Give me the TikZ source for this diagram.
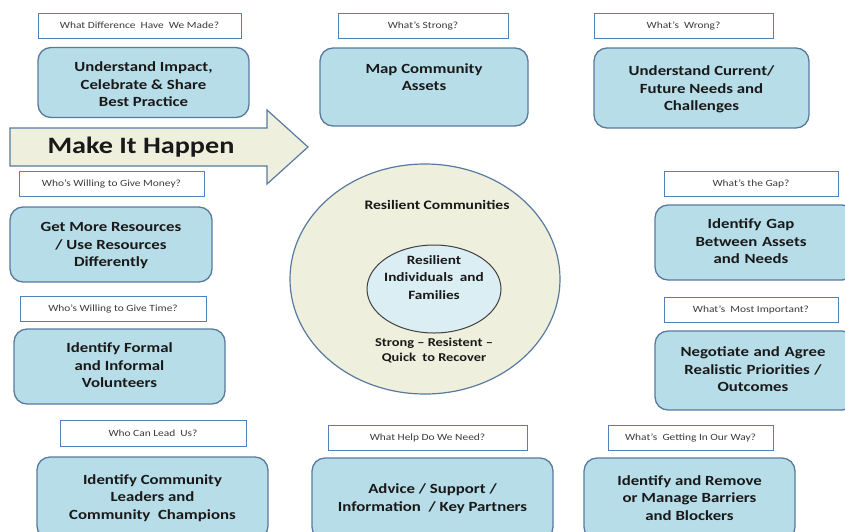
\documentclass[tikz,border=0pt]{standalone}
\usepackage{fontspec}
\setmainfont[FakeStretch=1.2]{Carlito}
\definecolor{boxfill}{RGB}{183,221,232}
\definecolor{boxline}{RGB}{88,122,158}
\definecolor{beige}{RGB}{238,240,221}
\definecolor{innerfill}{RGB}{219,238,244}
\definecolor{labline}{RGB}{79,129,189}
\definecolor{txt}{RGB}{25,25,25}
\begin{document}
\begin{tikzpicture}[x=1pt,y=-1pt,
  bbox/.style={draw=boxline, line width=1.3pt, fill=boxfill, rounded corners=13pt,
    align=center, text=txt, font=\fontsize{14}{17.5}\selectfont\bfseries, inner sep=0pt},
  lbox/.style={draw=labline, line width=0.9pt, fill=white, minimum height=25pt,
    text=txt!85, font=\fontsize{9.5}{10}\selectfont, inner sep=0pt},
  ctext/.style={align=center, text=txt, font=\fontsize{13}{17.5}\selectfont\bfseries, inner sep=0pt}]
\useasboundingbox (0,0) rectangle (845,531);
\fill[white] (0,0) rectangle (845,531);

% label boxes
\node[lbox, minimum width=203pt] (L1) at (139.5,25.5) {What Difference\ \ Have\ \ We Made?};
\node[lbox, minimum width=170pt] (L2) at (423,25.5) {What's Strong?};
\node[lbox, minimum width=179pt] (L3) at (683.5,25.5) {What's\ \ Wrong?};
\node[lbox, minimum width=185pt] (L4) at (111.5,183.5) {Who's Willing to Give Money?};
\node[lbox, minimum width=174pt] (L5) at (751,184) {What's the Gap?};
\node[lbox, minimum width=186pt] (L6) at (113,308.5) {Who's Willing to Give Time?};
\node[lbox, minimum width=174pt] (L7) at (751,309.5) {What's\ \ Most Important?};
\node[lbox, minimum width=186pt, minimum height=26pt] (L8) at (153,433) {Who Can Lead\ \ Us?};
\node[lbox, minimum width=199pt] (L9) at (427.5,437.5) {What Help Do We Need?};
\node[lbox, minimum width=165pt] (L10) at (690.5,437.5) {What's\ \ Getting In Our Way?};

% blue boxes
\node[bbox, minimum width=211pt, minimum height=70pt] (A) at (143.5,82.5) {\rule{0pt}{18.5pt}Understand Impact,\\\strut Celebrate \& Share\\\strut Best Practice};
\node[bbox, minimum width=208pt, minimum height=78pt] (B) at (424,87) {\strut Map Community\\\strut Assets\\\strut};
\node[bbox, minimum width=215pt, minimum height=80pt] (C) at (701.5,88) {\rule{0pt}{16pt}Understand Current/\\\strut Future Needs and\\\strut Challenges};
\node[bbox, minimum width=202pt, minimum height=75pt] (D) at (111,244.5) {\rule{0pt}{15pt}Get More Resources\\\strut / Use Resources\\\strut Differently};
\node[bbox, minimum width=200pt, minimum height=75pt, text width=190pt] (E) at (755,242.5) {\hspace*{-8pt}\strut Identify Gap\\\hspace*{-8pt}\strut Between Assets\\\hspace*{-8pt}\strut and Needs};
\node[bbox, minimum width=211pt, minimum height=75pt] (F) at (119.5,366.5) {\strut Identify Formal\\\strut and Informal\\\strut Volunteers};
\node[bbox, minimum width=200pt, minimum height=79pt, text width=190pt] (G) at (755,370.5) {\hspace*{-4pt}\strut Negotiate and Agree\\\hspace*{-4pt}\strut Realistic Priorities /\\\hspace*{-4pt}\strut Outcomes};
\node[bbox, minimum width=231pt, minimum height=82pt] (H) at (152.5,498) {\strut Identify Community\\\strut Leaders and\\\strut Community\ \ Champions};
\node[bbox, minimum width=241pt, minimum height=82pt] (I) at (432.5,499) {\strut Advice / Support /\\\strut Information\ \ / Key Partners};
\node[bbox, minimum width=211pt, minimum height=82pt] (J) at (689.5,499) {\strut Identify and Remove\\\strut or Manage Barriers\\\strut and Blockers};

% arrow
\draw[boxline, line width=1.2pt, fill=beige] (10,128) -- (267,128) -- (267,110) -- (308,147)
  -- (267,184) -- (267,166) -- (10,166) -- cycle;
\node[text=txt, font=\fontsize{23.5}{26}\selectfont\bfseries, inner sep=0pt] (MH) at (141,147) {Make It Happen};

% ellipses
\draw[boxline, line width=1.2pt, fill=beige] (425,279) ellipse [x radius=135, y radius=115];
\node[ctext] (RC) at (437,205) {Resilient Communities};
\draw[black!75, line width=1pt, fill=innerfill] (434,289) ellipse [x radius=67, y radius=44];
\node[ctext, font=\fontsize{12.7}{17.5}\selectfont\bfseries] (RI) at (434,278) {\strut Resilient\\\strut Individuals\ \ and\\\strut Families};
\node[ctext, font=\fontsize{12}{15}\selectfont\bfseries] (SR) at (434,351) {\strut Strong -- Resistent --\\\strut Quick\ \ to Recover};
\end{tikzpicture}
\end{document}
